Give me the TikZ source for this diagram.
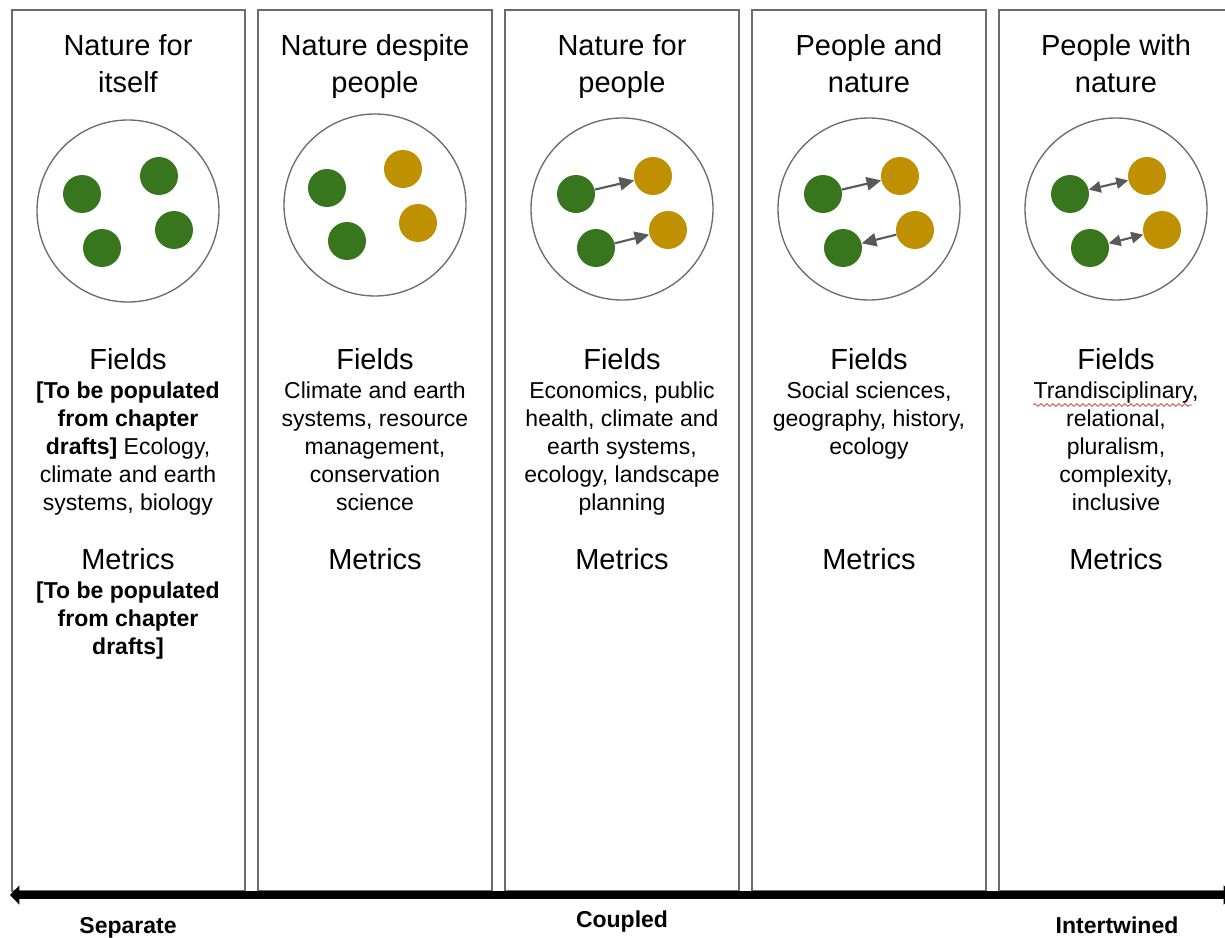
\documentclass[tikz,border=0pt]{standalone}
\usepackage{fontspec}
\setmainfont{Liberation Sans}
\usetikzlibrary{arrows.meta, decorations.pathmorphing}
\definecolor{natgreen}{HTML}{38761D}
\definecolor{pplgold}{HTML}{BF9000}
\definecolor{linkgray}{HTML}{595959}
\definecolor{panelgray}{HTML}{6B6B6B}
\definecolor{spellred}{HTML}{D0453E}

\begin{document}
\begin{tikzpicture}[
  x=0.75pt, y=-0.75pt,
  panel/.style={
    draw=panelgray,
    line width=1.1pt
  },
  lens/.style={
    draw=panelgray,
    line width=1pt
  },
  headtext/.style={
    anchor=north,
    align=center,
    inner sep=0pt,
    font=\fontsize{21.75}{27.75}\selectfont,
    execute at begin node=\strut
  },
  body/.style={
    anchor=north,
    align=center,
    inner sep=0pt,
    font=\fontsize{17.25}{21}\selectfont,
    execute at begin node=\strut
  },
  nat/.style={
    circle,
    fill=natgreen,
    minimum size=28.5pt,
    inner sep=0pt
  },
  ppl/.style={
    circle,
    fill=pplgold,
    minimum size=28.5pt,
    inner sep=0pt
  },
  link/.style={
    -{Triangle[length=11pt,width=10pt]},
    line width=1.6pt,
    draw=linkgray
  },
  mutual/.style={
    {Triangle[length=9pt,width=8.5pt]}-{Triangle[length=9pt,width=8.5pt]},
    line width=1.6pt,
    draw=linkgray
  },
  spectrum/.style={
    {Triangle[length=7pt,width=14pt]}-{Triangle[length=7pt,width=14pt]},
    line width=6pt,
    draw=black
  },
  pole/.style={
    anchor=base,
    inner sep=0pt,
    font=\fontsize{17.25}{20}\selectfont\bfseries
  },
  spell/.style={
    draw=spellred,
    line width=0.6pt,
    decorate,
    decoration={snake, amplitude=1pt, segment length=4.5pt}
  }
]
\useasboundingbox (0,0) rectangle (1225,938);

% Panels
\draw[panel] (12,10)  rectangle (245,891);
\draw[panel] (258,10) rectangle (492,891);
\draw[panel] (505,10) rectangle (739,891);
\draw[panel] (752,10) rectangle (986,891);
\draw[panel] (999,10) rectangle (1240,891);

% Headings
\node[headtext] (t1) at (128,34)  {Nature for\\itself};
\node[headtext] (t2) at (375,34)  {Nature despite\\people};
\node[headtext] (t3) at (622,34)  {Nature for\\people};
\node[headtext] (t4) at (869,34)  {People and\\nature};
\node[headtext] (t5) at (1116,34) {People with\\nature};

% Circles
\draw[lens] (128,211)  circle[radius=91];
\draw[lens] (375,205)  circle[radius=91];
\draw[lens] (622,209)  circle[radius=91];
\draw[lens] (869,209)  circle[radius=91];
\draw[lens] (1116,209) circle[radius=91];

% Dots (green = nature, gold = people)
\node[nat] (c1a) at (82,194)  {};
\node[nat] (c1b) at (159,176) {};
\node[nat] (c1c) at (102,248) {};
\node[nat] (c1d) at (174,230) {};

\node[nat] (c2a) at (327,188) {};
\node[ppl] (c2b) at (403,169) {};
\node[nat] (c2c) at (347,241) {};
\node[ppl] (c2d) at (418,223) {};

\node[nat] (c3a) at (576,194) {};
\node[ppl] (c3b) at (653,176) {};
\node[nat] (c3c) at (596,248) {};
\node[ppl] (c3d) at (668,230) {};

\node[nat] (c4a) at (823,194) {};
\node[ppl] (c4b) at (900,176) {};
\node[nat] (c4c) at (843,248) {};
\node[ppl] (c4d) at (915,230) {};

\node[nat] (c5a) at (1070,194) {};
\node[ppl] (c5b) at (1147,176) {};
\node[nat] (c5c) at (1090,248) {};
\node[ppl] (c5d) at (1162,230) {};

% Links
\draw[link] (c3a) -- (c3b);
\draw[link] (c3c) -- (c3d);
\draw[link] (c4a) -- (c4b);
\draw[link] (c4d) -- (c4c);
\draw[mutual] (c5a) -- (c5b);
\draw[mutual] (c5c) -- (c5d);

% Fields
\node[headtext] (f1) at (128,343)  {Fields};
\node[headtext] (f2) at (375,343)  {Fields};
\node[headtext] (f3) at (622,343)  {Fields};
\node[headtext] (f4) at (869,343)  {Fields};
\node[headtext] (f5) at (1116,343) {Fields};

\node[body] (b1) at (128,382)
{\textbf{[To be populated}\\\textbf{from chapter}\\\textbf{drafts]} Ecology,\\climate and earth\\systems, biology};
\node[body] (b2) at (375,382)
{Climate and earth\\systems, resource\\management,\\conservation\\science};
\node[body] (b3) at (622,382)
{Economics, public\\health, climate and\\earth systems,\\ecology, landscape\\planning};
\node[body] (b4) at (869,382)
{Social sciences,\\geography, history,\\ecology};
\node[body] (b5) at (1116,382)
{Trandisciplinary,\\relational,\\pluralism,\\complexity,\\inclusive};
\draw[spell] (1033,405) -- (1192,405);

% Metrics
\node[headtext] (m1) at (128,543)  {Metrics};
\node[headtext] (m2) at (375,543)  {Metrics};
\node[headtext] (m3) at (622,543)  {Metrics};
\node[headtext] (m4) at (869,543)  {Metrics};
\node[headtext] (m5) at (1116,543) {Metrics};

\node[body, font=\fontsize{17.25}{21}\selectfont\bfseries] (mb1) at (128,582)
{[To be populated\\from chapter\\drafts]};

% Spectrum
\coordinate (sepend) at (10,895);
\coordinate (intend) at (1233,895);
\draw[spectrum] (sepend) -- (intend);

\node[pole] (sep) at (128,933)  {Separate};
\node[pole] (cpl) at (622,927)  {Coupled};
\node[pole] (int) at (1117,933) {Intertwined};

\end{tikzpicture}
\end{document}
